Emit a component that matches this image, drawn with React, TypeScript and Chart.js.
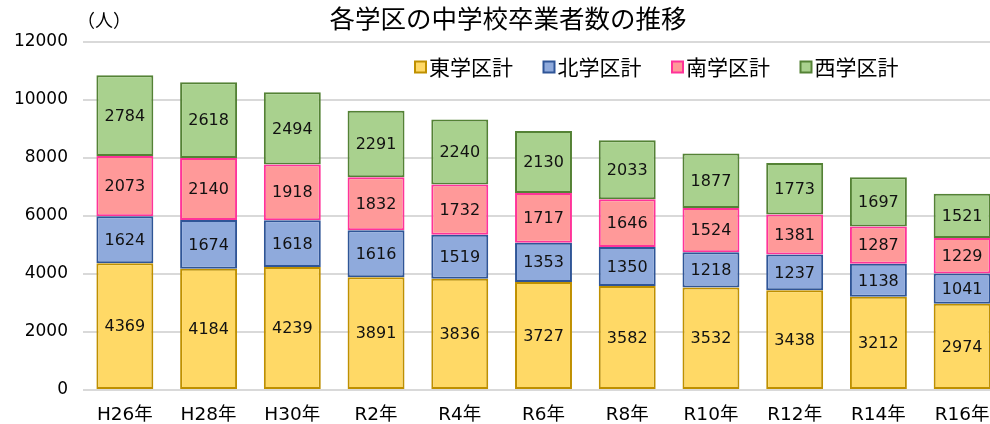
import React, { useEffect, useRef } from "react";
import { Chart, registerables } from "chart.js";

Chart.register(...registerables);

const categories = ["H26年", "H28年", "H30年", "R2年", "R4年", "R6年", "R8年", "R10年", "R12年", "R14年", "R16年"];
const seriesNames = ["東学区計", "北学区計", "南学区計", "西学区計"];
const eastValues = [4369, 4184, 4239, 3891, 3836, 3727, 3582, 3532, 3438, 3212, 2974];
const northValues = [1624, 1674, 1618, 1616, 1519, 1353, 1350, 1218, 1237, 1138, 1041];
const southValues = [2073, 2140, 1918, 1832, 1732, 1717, 1646, 1524, 1381, 1287, 1229];
const westValues = [2784, 2618, 2494, 2291, 2240, 2130, 2033, 1877, 1773, 1697, 1521];
const yTicks = [0, 2000, 4000, 6000, 8000, 10000, 12000];
const titleText = "各学区の中学校卒業者数の推移";
const unitText = "（人）";

const fills = ["#FFD966", "#8FAADC", "#FF9999", "#A9D18E"];
const borders = ["#BF9000", "#2F5597", "#FF3399", "#548235"];
const FONT = "'DejaVu Sans', 'Noto Sans CJK JP', sans-serif";
const JFONT = "'Noto Sans CJK JP', sans-serif";

const decorPlugin = {
  id: "decor",
  afterDatasetsDraw(chart: any) {
    const ctx = chart.ctx;
    ctx.save();
    // data labels
    ctx.font = `16px ${FONT}`;
    ctx.fillStyle = "#111";
    ctx.textAlign = "center";
    ctx.textBaseline = "middle";
    chart.data.datasets.forEach((ds: any, i: number) => {
      const meta = chart.getDatasetMeta(i);
      meta.data.forEach((el: any, j: number) => {
        const p = el.getProps(["x", "y", "base"], true);
        ctx.fillText(String(ds.data[j]), p.x, (p.y + p.base) / 2 + 1);
      });
    });
    // title
    ctx.fillStyle = "#000";
    ctx.font = `25.5px ${JFONT}`;
    ctx.fillText(titleText, 508, 18);
    // unit
    ctx.font = `18px ${JFONT}`;
    ctx.textAlign = "left";
    ctx.fillText(unitText, 77, 20);
    // legend
    const startX = 415;
    const step = 128.5;
    const cy = 67;
    seriesNames.forEach((name, i) => {
      const x = startX + i * step;
      ctx.fillStyle = fills[i];
      ctx.fillRect(x, cy - 5.5, 11, 11);
      ctx.strokeStyle = borders[i];
      ctx.lineWidth = 2;
      ctx.strokeRect(x, cy - 5.5, 11, 11);
      ctx.fillStyle = "#000";
      ctx.font = `21px ${JFONT}`;
      ctx.textAlign = "left";
      ctx.fillText(name, x + 14, cy);
    });
    ctx.restore();
  },
};

export default function App() {
  const ref = useRef<HTMLCanvasElement>(null);
  useEffect(() => {
    if (!ref.current) return;
    const valueSets = [eastValues, northValues, southValues, westValues];
    const chart = new Chart(ref.current, {
      type: "bar",
      data: {
        labels: categories,
        datasets: seriesNames.map((n, i) => ({
          label: n,
          data: valueSets[i],
          backgroundColor: fills[i],
          borderColor: borders[i],
          borderWidth: 2,
          borderSkipped: false,
          barPercentage: 0.68,
          categoryPercentage: 1,
        })),
      },
      options: {
        responsive: false,
        animation: false,
        maintainAspectRatio: false,
        layout: { padding: { top: 42, left: 0, right: 0, bottom: 0 } },
        plugins: { legend: { display: false }, tooltip: { enabled: false }, title: { display: false } },
        scales: {
          x: {
            stacked: true,
            grid: { display: false },
            border: { display: false },
            ticks: { color: "#000", font: { family: FONT, size: 18.5 }, padding: 6 },
            afterFit: (s: any) => { s.height = 34; },
          },
          y: {
            stacked: true,
            min: 0,
            max: 12000,
            afterBuildTicks: (s: any) => { s.ticks = yTicks.map((v) => ({ value: v })); },
            grid: { color: "#D9D9D9", lineWidth: 2, drawTicks: false },
            border: { display: false },
            ticks: { color: "#000", font: { family: FONT, size: 17 }, padding: 15, callback: (v: any) => String(v) },
            afterFit: (s: any) => { s.width = 83; },
          },
        },
      },
      plugins: [decorPlugin],
    });
    return () => chart.destroy();
  }, []);
  return (
    <div style={{ position: "fixed", left: 0, top: 0, width: 990, height: 424, overflow: "hidden", background: "#fff" }}>
      <canvas ref={ref} width={1004} height={424} style={{ display: "block" }} />
    </div>
  );
}
